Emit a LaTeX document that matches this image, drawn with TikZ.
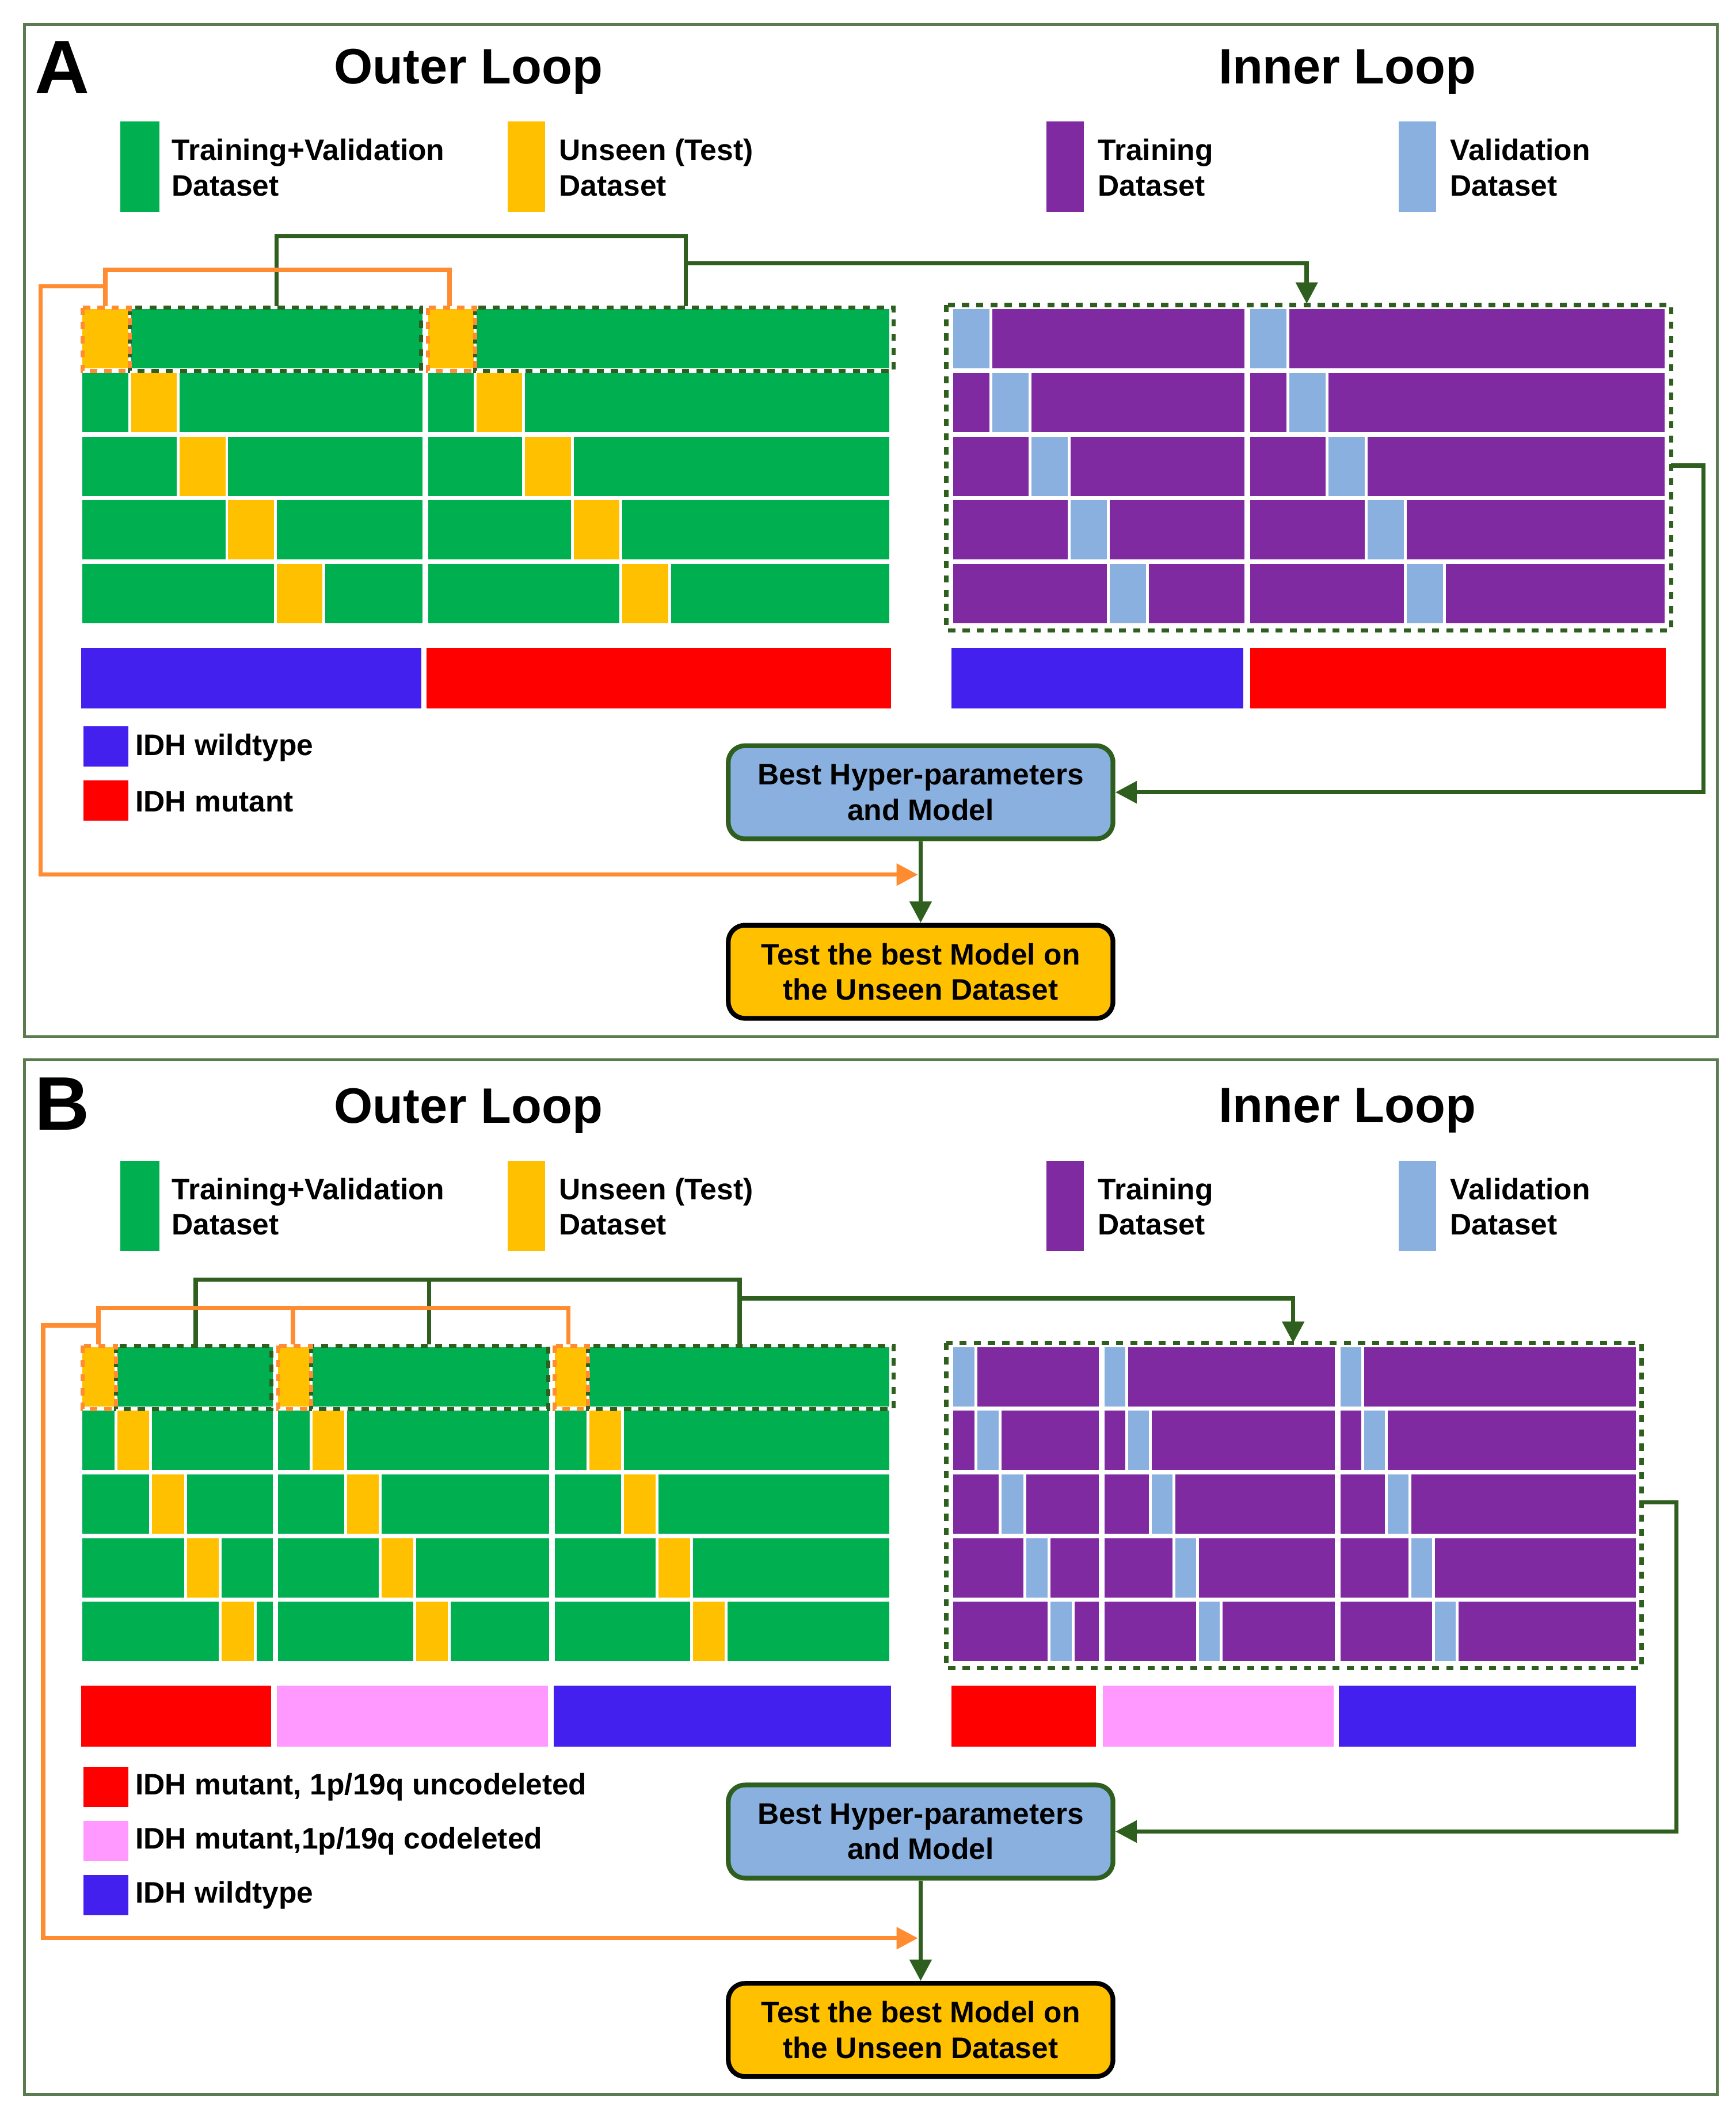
\documentclass[tikz,border=0pt]{standalone}
\usepackage{fontspec}
\setmainfont{Liberation Sans}
\usetikzlibrary{arrows.meta}
\definecolor{cg}{HTML}{00B050}
\definecolor{cy}{HTML}{FFC000}
\definecolor{cp}{HTML}{7F2AA0}
\definecolor{cl}{HTML}{8AB0E0}
\definecolor{cb}{HTML}{4420EE}
\definecolor{cr}{HTML}{FF0000}
\definecolor{cpk}{HTML}{FF99FF}
\definecolor{dg}{HTML}{2F5F1F}
\definecolor{og}{HTML}{FF8C30}
\definecolor{frm}{HTML}{5A7A50}
\newcommand\myblock[6]{%
 \foreach \i in {0,...,4}{%
  \pgfmathsetmacro\t{#4+47.2*\i}%
  \fill[#5,draw=white,line width=1.2pt] (#1,\t) rectangle (#2,\t+46);
  \fill[#6,draw=white,line width=1.2pt] (#1+#3*\i,\t) rectangle (#1+#3*\i+#3,\t+46);
 }}
\newcommand\myrowzero[4]{%
  \draw[dg,dashed,line width=1.7pt] (#1+#3,#4) rectangle (#2,#4+47);
  \draw[og,dashed,line width=1.7pt] (#1+1,#4) rectangle (#1+#3,#4+47);
}
\begin{document}
\begin{tikzpicture}[x=0.02cm,y=-0.02cm,
 lbl/.style={font=\bfseries\fontsize{12.5}{15}\selectfont,anchor=west,align=left,inner sep=0},
 ttl/.style={font=\bfseries\fontsize{21}{24}\selectfont,inner sep=0},
 big/.style={font=\bfseries\fontsize{32}{34}\selectfont,inner sep=0},
 box/.style={rounded corners=7pt,line width=2pt,minimum width=5.7cm,minimum height=1.38cm,align=center,font=\bfseries\fontsize{12.5}{15}\selectfont,inner sep=0},
 gl/.style={dg,line width=1.8pt},
 ol/.style={og,line width=1.8pt},
 tip/.style={-{Triangle[length=9pt,width=9pt]}}]
\useasboundingbox (0,0) rectangle (1286,1570);
\fill[white] (0,0) rectangle (1286,1570);
\draw[frm,line width=1.2pt] (18,18) rectangle (1272,768);
\draw[frm,line width=1.2pt] (18,785) rectangle (1272,1552);

% ---------- Panel A ----------
\node[big] (A) at (46,50) {A};
\node[ttl] (oA) at (347,53) {Outer Loop};
\node[ttl] (iA) at (998,53) {Inner Loop};
\fill[cg] (89,90) rectangle (118,157); \node[lbl] (l1) at (127,124) {Training+Validation\\Dataset};
\fill[cy] (376,90) rectangle (404,157); \node[lbl] (l2) at (414,124) {Unseen (Test)\\Dataset};
\fill[cp] (775,90) rectangle (803,157); \node[lbl] (l3) at (813,124) {Training\\Dataset};
\fill[cl] (1036,90) rectangle (1064,157); \node[lbl] (l4) at (1074,124) {Validation\\Dataset};

\myblock{60}{314}{36}{228}{cg}{cy}
\myblock{316}{660}{36}{228}{cg}{cy}
\myrowzero{60}{312}{36}{228}
\myrowzero{316}{662}{36}{228}
\myblock{705}{923}{29}{228}{cp}{cl}
\myblock{925}{1234}{29}{228}{cp}{cl}
\draw[dg,dashed,line width=1.8pt] (701,226) rectangle (1238,467);

\fill[cb] (60,480) rectangle (312,525); \fill[cr] (316,480) rectangle (660,525);
\fill[cb] (705,480) rectangle (921,525); \fill[cr] (926,480) rectangle (1234,525);
\fill[cb] (62,538) rectangle (95,568); \node[lbl] (w1) at (100,554) {IDH wildtype};
\fill[cr] (62,578) rectangle (95,608); \node[lbl] (m1) at (100,594) {IDH mutant};

\node[box,draw=dg,fill=cl] (bestA) at (682,587) {Best Hyper-parameters\\and Model};
\node[box,draw=black,fill=cy] (testA) at (682,720) {Test the best Model on\\the Unseen Dataset};

\coordinate (ga1) at (205,227); \coordinate (ga2) at (508,227); \coordinate (gin) at (968,225);
\coordinate (ir) at (1238,345);
\draw[gl] (ga1) |- (508,175) -- (ga2);
\draw[gl,tip] (508,195) -| (gin);
\draw[gl,tip] (ir) -- (1262,345) |- (bestA.east);
\draw[gl,tip] (bestA.south) -- (testA.north);
\coordinate (oa1) at (78,227); \coordinate (oa2) at (333,227);
\draw[ol] (oa1) |- (333,200) -- (oa2);
\draw[ol,tip] (78,212) -- (30,212) |- (680,648);

% ---------- Panel B ----------
\node[big] (B) at (46,818) {B};
\node[ttl] (oB) at (347,823) {Outer Loop};
\node[ttl] (iB) at (998,823) {Inner Loop};
\fill[cg] (89,860) rectangle (118,927); \node[lbl] (k1) at (127,894) {Training+Validation\\Dataset};
\fill[cy] (376,860) rectangle (404,927); \node[lbl] (k2) at (414,894) {Unseen (Test)\\Dataset};
\fill[cp] (775,860) rectangle (803,927); \node[lbl] (k3) at (813,894) {Training\\Dataset};
\fill[cl] (1036,860) rectangle (1064,927); \node[lbl] (k4) at (1074,894) {Validation\\Dataset};

\myblock{60}{203}{25.8}{997}{cg}{cy}
\myblock{205}{408}{25.6}{997}{cg}{cy}
\myblock{410}{660}{25.6}{997}{cg}{cy}
\myrowzero{60}{201}{25.8}{997}
\myrowzero{205}{406}{25.6}{997}
\myrowzero{410}{662}{25.6}{997}
\myblock{705}{815}{18}{997}{cp}{cl}
\myblock{817}{990}{17.5}{997}{cp}{cl}
\myblock{992}{1213}{17.5}{997}{cp}{cl}
\draw[dg,dashed,line width=1.8pt] (701,995) rectangle (1216,1236);

\fill[cr] (60,1249) rectangle (201,1294); \fill[cpk] (205,1249) rectangle (406,1294); \fill[cb] (410,1249) rectangle (660,1294);
\fill[cr] (705,1249) rectangle (812,1294); \fill[cpk] (817,1249) rectangle (988,1294); \fill[cb] (992,1249) rectangle (1212,1294);
\fill[cr] (62,1309) rectangle (95,1339); \node[lbl] (n1) at (100,1324) {IDH mutant, 1p/19q uncodeleted};
\fill[cpk] (62,1349) rectangle (95,1379); \node[lbl] (n2) at (100,1364) {IDH mutant,1p/19q codeleted};
\fill[cb] (62,1389) rectangle (95,1419); \node[lbl] (n3) at (100,1404) {IDH wildtype};

\node[box,draw=dg,fill=cl] (bestB) at (682,1357) {Best Hyper-parameters\\and Model};
\node[box,draw=black,fill=cy] (testB) at (682,1504) {Test the best Model on\\the Unseen Dataset};

\coordinate (gb1) at (145,996); \coordinate (gb2) at (318,996); \coordinate (gb3) at (548,996);
\coordinate (ginB) at (958,995); \coordinate (irB) at (1216,1113);
\draw[gl] (gb1) |- (548,948) -- (gb3);
\draw[gl] (gb2) -- (318,948);
\draw[gl,tip] (548,962) -| (ginB);
\draw[gl,tip] (irB) -- (1242,1113) |- (bestB.east);
\draw[gl,tip] (bestB.south) -- (testB.north);
\coordinate (ob1) at (73,996); \coordinate (ob2) at (217,996); \coordinate (ob3) at (421,996);
\draw[ol] (ob1) |- (421,969) -- (ob3);
\draw[ol] (ob2) -- (217,969);
\draw[ol,tip] (73,982) -- (32,982) |- (680,1436);
\end{tikzpicture}
\end{document}
